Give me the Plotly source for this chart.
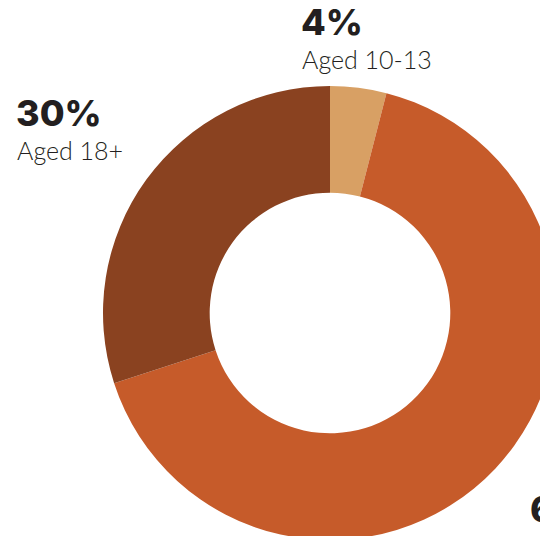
import plotly.graph_objects as go

labels = ["Aged 10-13", "Aged 14-17", "Aged 18+"]
values = [4, 66, 30]
pct_text = ["4%", "66%", "30%"]
colors = ["#D8A064", "#C65B2A", "#8A4220"]

W, H = 600, 600
cx, cy, R = 330, 313, 227

fig = go.Figure(go.Pie(
    labels=labels,
    values=values,
    hole=0.53,
    sort=False,
    direction="clockwise",
    rotation=0,
    marker=dict(colors=colors, line=dict(width=0)),
    textinfo="none",
    hoverinfo="label+percent",
    showlegend=False,
    domain=dict(x=[(cx - R) / W, (cx + R) / W], y=[1 - (cy + R) / H, 1 - (cy - R) / H]),
))

label_pos = {"Aged 10-13": (299, -2), "Aged 18+": (14, 89), "Aged 14-17": (528, 485)}
for lab, pt in zip(labels, pct_text):
    x, y = label_pos[lab]
    fig.add_annotation(
        x=x / W, y=1 - y / H, xref="paper", yref="paper", xanchor="left", yanchor="top",
        text=pt, showarrow=False,
        font=dict(family="Inter", size=36, color="#231F20", weight=800),
    )
    fig.add_annotation(
        x=(x + 1) / W, y=1 - (y + 44) / H, xref="paper", yref="paper", xanchor="left", yanchor="top",
        text=lab, showarrow=False,
        font=dict(family="Lato", size=25, color="#231F20", weight=300),
    )

fig.update_layout(
    width=W, height=H,
    margin=dict(l=0, r=0, t=0, b=0),
    paper_bgcolor="white", plot_bgcolor="white",
)

fig.write_html("out.html", post_script="document.body.style.margin='0';document.body.style.overflow='hidden';")
